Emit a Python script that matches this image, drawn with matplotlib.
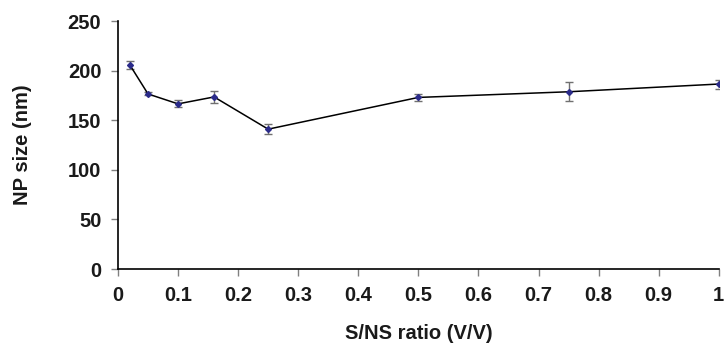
import matplotlib.pyplot as plt

plt.rcParams['font.family'] = ['Liberation Sans', 'DejaVu Sans']

# S/NS ratio vs NP size
ratio = [0.02, 0.05, 0.1, 0.16, 0.25, 0.5, 0.75, 1.0]
size_nm = [205.5, 176.5, 166.5, 173.5, 141, 173, 178.7, 186.5]
size_err = [4, 1.5, 3.5, 6, 5, 3.5, 9.8, 4.5]

fig = plt.figure(figsize=(7.26, 3.51), dpi=100)
ax = fig.add_axes([0.1625, 0.2336, 0.8275, 0.7064])

ax.errorbar(ratio, size_nm, yerr=size_err, color='black', lw=1.1,
            ecolor='#707070', elinewidth=1, capsize=3, capthick=1,
            marker='D', ms=3, mfc='#2B2B8A', mec='#2B2B8A', zorder=3)

ax.set_xlim(0, 1)
ax.set_ylim(0, 250)
ax.set_xticks([0, 0.1, 0.2, 0.3, 0.4, 0.5, 0.6, 0.7, 0.8, 0.9, 1])
ax.set_xticklabels(['0', '0.1', '0.2', '0.3', '0.4', '0.5', '0.6', '0.7', '0.8', '0.9', '1'])
ax.set_yticks([0, 50, 100, 150, 200, 250])

for s in ['top', 'right']:
    ax.spines[s].set_visible(False)
for s in ['left', 'bottom']:
    ax.spines[s].set_color('black')
    ax.spines[s].set_linewidth(1.2)

ax.tick_params(direction='out', length=5, width=1, color='#808080',
               labelsize=14.5, pad=7)
for lab in ax.get_xticklabels() + ax.get_yticklabels():
    lab.set_fontweight('bold')
    lab.set_color('#1a1a1a')

ax.set_xlabel('S/NS ratio (V/V)', fontsize=14.5, fontweight='bold', labelpad=14,
              color='#1a1a1a')
ax.set_ylabel('NP size (nm)', fontsize=14.5, fontweight='bold', labelpad=26,
              color='#1a1a1a')

fig.savefig('out.png', dpi=100)
